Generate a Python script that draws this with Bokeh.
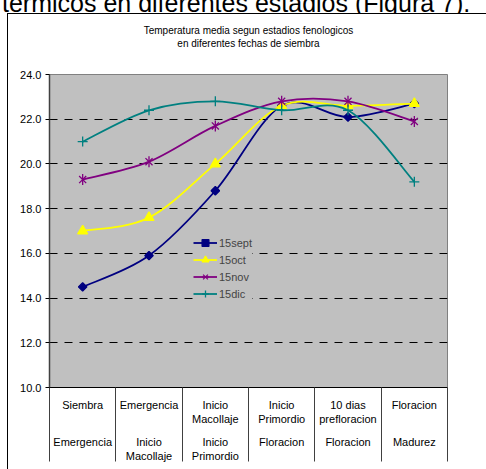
from bokeh.plotting import figure
from bokeh.models import (Range1d, FixedTicker, Legend, LegendItem, Title, Div,
                          LinearAxis, NumeralTickFormatter, CustomJSTickFormatter,
                          InlineStyleSheet)
from bokeh.layouts import column
from bokeh.embed import file_html
from bokeh.resources import INLINE
import math

# ---- data -------------------------------------------------------------
stages_from = ["Siembra", "Emergencia", "Inicio\nMacollaje", "Inicio\nPrimordio",
               "10 dias\nprefloracion", "Floracion"]
stages_to = ["Emergencia", "Inicio\nMacollaje", "Inicio\nPrimordio", "Floracion",
             "Floracion", "Madurez"]

sept15 = [14.5, 15.9, 18.8, 22.6, 22.1, 22.7]
oct15 = [17.0, 17.6, 20.0, 22.6, 22.6, 22.7]
nov15 = [19.3, 20.1, 21.7, 22.8, 22.8, 21.9]
dic15 = [21.0, 22.4, 22.8, 22.4, 22.4, 19.2]

y_ticks = [10, 12, 14, 16, 18, 20, 22, 24]
grid_ticks = [12, 14, 16, 18, 20, 22]

title_lines = ["Temperatura media segun estadios fenologicos",
               "en diferentes fechas de siembra"]
page_text = "térmicos en diferentes estadios (Figura 7)."

# ---- layout -----------------------------------------------------------
W = 486
TOP_STRIP = 13            # running text strip above the chart box
H = 469 - TOP_STRIP
FL, FR, FT, FB = 49, 447, 61, 374   # plot frame edges inside the figure
N = len(stages_from)
FONT = "Liberation Sans"
SEP_LEN = 74              # length of the stage table separators

# running text of the page, only its lower part shows above the chart box
page_div = Div(
    text=('<div style="font-family:\'Liberation Sans\',Arial,sans-serif;'
          'font-size:25px;line-height:25px;white-space:nowrap;'
          'margin-top:-11px;margin-left:2px;color:black">' + page_text + '</div>'),
    width=W, height=TOP_STRIP, margin=(0, 0, 0, 0),
    styles={"overflow": "hidden", "padding": "0"})

p = figure(width=W, height=H, x_range=Range1d(0, N), y_range=Range1d(10, 24),
           output_backend="svg", toolbar_location=None,
           min_border_left=FL, min_border_right=W - FR,
           min_border_top=FT, min_border_bottom=H - FB,
           background_fill_color="#C0C0C0", border_fill_color="white",
           outline_line_color="#808080", margin=(0, 0, 0, 0))

# chart box border (left and top edges; the rest lies outside the page)
p.stylesheets = [InlineStyleSheet(css="""
:host { position: relative; }
:host::after { content: ""; position: absolute; left: 7px; top: 0px; right: 0px;
  bottom: 0px; border-left: 1px solid black; border-top: 1px solid black;
  pointer-events: none; }
""")]

# ---- title (two lines) above the plot --------------------------------
p.add_layout(Title(text=" ", text_font_size="1px", standoff=22), "above")
for line in reversed(title_lines):
    p.add_layout(Title(text=line, align="center", vertical_align="middle",
                       text_font=FONT, text_font_size="10px",
                       text_font_style="normal", text_color="black",
                       standoff=0), "above")

# ---- y axis -----------------------------------------------------------
p.yaxis.ticker = FixedTicker(ticks=y_ticks)
p.yaxis.formatter = NumeralTickFormatter(format="0.0")
p.yaxis.major_tick_in = 0
p.yaxis.major_tick_out = 4
p.yaxis.minor_tick_line_color = None
p.yaxis.axis_line_color = "#404040"
p.yaxis.axis_line_width = 1.5
p.yaxis.major_tick_line_color = "black"
p.yaxis.major_label_text_font = FONT
p.yaxis.major_label_text_font_size = "11px"
p.yaxis.major_label_text_color = "black"
p.yaxis.major_label_standoff = 4

# ---- stage table below the plot ---------------------------------------
centers = [i + 0.5 for i in range(N)]
bounds = list(range(N + 1))

# first row: stage where each period starts; the long minor ticks are the
# table separators, the negative standoff pulls the labels back under the axis
xa = p.xaxis[0]
xa.ticker = FixedTicker(ticks=centers, minor_ticks=bounds)
xa.formatter = CustomJSTickFormatter(args=dict(labels=stages_from),
                                     code="return labels[Math.round(tick - 0.5)];")
xa.major_tick_in = 0
xa.major_tick_out = 0
xa.major_tick_line_color = None
xa.minor_tick_in = 0
xa.minor_tick_out = SEP_LEN
xa.minor_tick_line_color = "#404040"
xa.axis_line_color = "black"
xa.major_label_standoff = 11 - SEP_LEN
xa.major_label_text_font = FONT
xa.major_label_text_font_size = "11px"
xa.major_label_text_color = "black"
xa.major_label_text_line_height = 1.2

# second row: stage where each period ends
xb = LinearAxis(ticker=FixedTicker(ticks=centers),
                formatter=CustomJSTickFormatter(args=dict(labels=stages_to),
                                                code="return labels[Math.round(tick - 0.5)];"),
                axis_line_color=None, major_tick_line_color=None,
                minor_tick_line_color=None, major_tick_in=0, major_tick_out=0,
                major_label_standoff=8, major_label_text_font=FONT,
                major_label_text_font_size="11px", major_label_text_color="black",
                major_label_text_line_height=1.2)
p.add_layout(xb, "below")

# grid
p.xgrid.grid_line_color = None
p.ygrid.ticker = FixedTicker(ticks=grid_ticks)
p.ygrid.grid_line_color = "black"
p.ygrid.grid_line_dash = "8 7"
p.ygrid.grid_line_width = 1

# ---- smoothed series --------------------------------------------------
def smooth_segments(xv, yv):
    n = len(xv)
    seg = dict(x0=[], y0=[], x1=[], y1=[], cx0=[], cy0=[], cx1=[], cy1=[])
    for i in range(n - 1):
        a = max(i - 1, 0)
        b = min(i + 2, n - 1)
        seg["x0"].append(xv[i]); seg["y0"].append(yv[i])
        seg["x1"].append(xv[i + 1]); seg["y1"].append(yv[i + 1])
        seg["cx0"].append(xv[i] + (xv[i + 1] - xv[a]) / 6)
        seg["cy0"].append(yv[i] + (yv[i + 1] - yv[a]) / 6)
        seg["cx1"].append(xv[i + 1] - (xv[b] - xv[i]) / 6)
        seg["cy1"].append(yv[i + 1] - (yv[b] - yv[i]) / 6)
    return seg


series = [
    ("15sept", sept15, "#000080", [dict(marker="square", size=6, angle=math.pi / 4)]),
    ("15oct", oct15, "#FFFF00", [dict(marker="triangle", size=10)]),
    ("15nov", nov15, "#800080", [dict(marker="x", size=10),
                                 dict(marker="dash", size=11, angle=math.pi / 2)]),
    ("15dic", dic15, "#008080", [dict(marker="cross", size=10)]),
]

items = []
for name, vals, color, markers in series:
    s = smooth_segments(centers, vals)
    r_line = p.bezier(x0=s["x0"], y0=s["y0"], x1=s["x1"], y1=s["y1"],
                      cx0=s["cx0"], cy0=s["cy0"], cx1=s["cx1"], cy1=s["cy1"],
                      line_color=color, line_width=1.8)
    rends = [r_line]
    for m in markers:
        rends.append(p.scatter(centers, vals, line_color=color, fill_color=color,
                               line_width=1.3, **m))
    items.append(LegendItem(label=name, renderers=rends))

legend = Legend(items=items, location=(144, 85), background_fill_color="#C0C0C0",
                background_fill_alpha=1, border_line_color=None,
                label_text_font=FONT, label_text_font_size="11px",
                glyph_width=24, glyph_height=17, label_height=17, spacing=0,
                padding=4, margin=0, label_standoff=2)
p.add_layout(legend)

layout = column(page_div, p, spacing=0)
open("out.html", "w").write(file_html(layout, INLINE))
